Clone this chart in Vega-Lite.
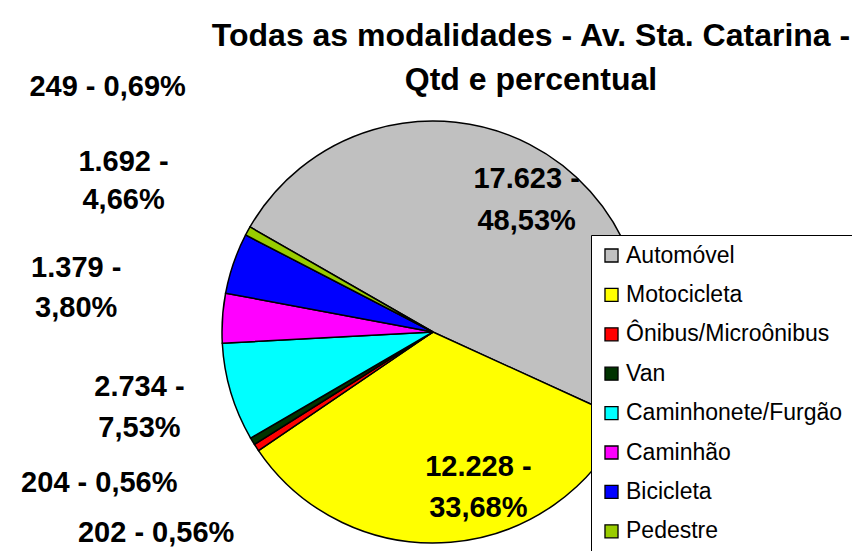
{
  "$schema": "https://vega.github.io/schema/vega-lite/v6.json",
  "autosize": "none",
  "width": 422,
  "height": 424,
  "padding": {"left": 222, "top": 120, "right": 208, "bottom": 7},
  "background": "white",
  "title": {
    "text": ["Todas as modalidades - Av. Sta. Catarina -", "Qtd e percentual"],
    "font": "Liberation Sans",
    "fontSize": 32,
    "fontWeight": "bold",
    "color": "black",
    "anchor": "middle",
    "frame": "group",
    "align": "center",
    "dx": 98,
    "offset": -24,
    "lineHeight": 44
  },
  "data": {
    "values": [
      {"modalidade": "Automóvel", "qtd": 17623, "ordem": 1, "rotulo": "17.623 -\n48,53%"},
      {"modalidade": "Motocicleta", "qtd": 12228, "ordem": 2, "rotulo": "12.228 -\n33,68%"},
      {"modalidade": "Ônibus/Microônibus", "qtd": 202, "ordem": 3, "rotulo": "202 - 0,56%"},
      {"modalidade": "Van", "qtd": 204, "ordem": 4, "rotulo": "204 - 0,56%"},
      {"modalidade": "Caminhonete/Furgão", "qtd": 2734, "ordem": 5, "rotulo": "2.734 -\n7,53%"},
      {"modalidade": "Caminhão", "qtd": 1379, "ordem": 6, "rotulo": "1.379 -\n3,80%"},
      {"modalidade": "Bicicleta", "qtd": 1692, "ordem": 7, "rotulo": "1.692 -\n4,66%"},
      {"modalidade": "Pedestre", "qtd": 249, "ordem": 8, "rotulo": "249 - 0,69%"}
    ]
  },
  "layer": [
    {
      "mark": {"type": "arc", "outerRadius": 211, "stroke": "black", "strokeWidth": 1.5},
      "encoding": {
        "theta": {"field": "qtd", "type": "quantitative", "stack": true, "scale": {"type": "linear", "range": [-1.0498, 5.2334]}},
        "order": {"field": "ordem", "type": "quantitative"},
        "color": {
          "field": "modalidade",
          "type": "nominal",
          "scale": {
            "domain": ["Automóvel", "Motocicleta", "Ônibus/Microônibus", "Van", "Caminhonete/Furgão", "Caminhão", "Bicicleta", "Pedestre"],
            "range": ["#C0C0C0", "#FFFF00", "#FF0000", "#003300", "#00FFFF", "#FF00FF", "#0000FF", "#99CC00"]
          },
          "legend": {
            "orient": "none",
            "legendX": 369,
            "legendY": 115,
            "title": null,
            "fillColor": "white",
            "strokeColor": "black",
            "padding": 9,
            "labelFont": "Liberation Sans",
            "labelFontSize": 23,
            "labelColor": "black",
            "labelOffset": 3,
            "labelLimit": 400,
            "symbolType": "square",
            "symbolSize": 170,
            "symbolStrokeColor": "black",
            "symbolStrokeWidth": 1.3,
            "symbolOpacity": 1,
            "rowPadding": 15.4
          }
        }
      }
    },
    {
      "mark": {"type": "text", "radius": 161, "dx": 20, "dy": -10, "font": "Liberation Sans", "fontSize": 29, "fontWeight": "bold", "fill": "black", "lineBreak": "\n", "lineHeight": 42, "align": "center", "baseline": "middle"},
      "encoding": {
        "theta": {"field": "qtd", "type": "quantitative", "stack": true},
        "order": {"field": "ordem", "type": "quantitative"},
        "detail": {"field": "modalidade", "type": "nominal"},
        "text": {"condition": {"test": "datum.modalidade === 'Automóvel'", "field": "rotulo"}, "value": ""}
      }
    },
    {
      "mark": {"type": "text", "radius": 159, "dx": 32, "dy": -23, "font": "Liberation Sans", "fontSize": 29, "fontWeight": "bold", "fill": "black", "lineBreak": "\n", "lineHeight": 41, "align": "center", "baseline": "middle"},
      "encoding": {
        "theta": {"field": "qtd", "type": "quantitative", "stack": true},
        "order": {"field": "ordem", "type": "quantitative"},
        "detail": {"field": "modalidade", "type": "nominal"},
        "text": {"condition": {"test": "datum.modalidade === 'Motocicleta'", "field": "rotulo"}, "value": ""}
      }
    },
    {
      "transform": [
        {"stack": "qtd", "groupby": [], "sort": [{"field": "ordem", "order": "ascending"}], "as": ["s0", "s1"]},
        {"filter": "datum.modalidade === 'Ônibus/Microônibus'"}
      ],
      "mark": {"type": "text", "radius": 342, "dx": 6, "dy": 9, "font": "Liberation Sans", "fontSize": 29, "fontWeight": "bold", "fill": "black", "align": "center", "baseline": "middle"},
      "encoding": {
        "theta": {"field": "s0", "type": "quantitative"},
        "text": {"field": "rotulo"}
      }
    },
    {
      "transform": [
        {"stack": "qtd", "groupby": [], "sort": [{"field": "ordem", "order": "ascending"}], "as": ["s0", "s1"]},
        {"filter": "datum.modalidade === 'Van'"}
      ],
      "mark": {"type": "text", "radius": 364, "dx": -19, "dy": -32, "font": "Liberation Sans", "fontSize": 29, "fontWeight": "bold", "fill": "black", "align": "center", "baseline": "middle"},
      "encoding": {
        "theta": {"field": "s1", "type": "quantitative"},
        "text": {"field": "rotulo"}
      }
    },
    {
      "transform": [
        {"stack": "qtd", "groupby": [], "sort": [{"field": "ordem", "order": "ascending"}], "as": ["s0", "s1"]},
        {"filter": "datum.modalidade === 'Caminhonete/Furgão'"}
      ],
      "mark": {"type": "text", "radius": 296, "dx": 2, "dy": 39, "font": "Liberation Sans", "fontSize": 29, "fontWeight": "bold", "fill": "black", "lineBreak": "\n", "lineHeight": 41, "align": "center", "baseline": "middle"},
      "encoding": {
        "theta": {"field": "s1", "type": "quantitative"},
        "text": {"field": "rotulo"}
      }
    },
    {
      "transform": [
        {"stack": "qtd", "groupby": [], "sort": [{"field": "ordem", "order": "ascending"}], "as": ["s0", "s1"]},
        {"filter": "datum.modalidade === 'Caminhão'"}
      ],
      "mark": {"type": "text", "radius": 363, "dx": 0, "dy": 3, "font": "Liberation Sans", "fontSize": 29, "fontWeight": "bold", "fill": "black", "lineBreak": "\n", "lineHeight": 40, "align": "center", "baseline": "middle"},
      "encoding": {
        "theta": {"field": "s1", "type": "quantitative"},
        "text": {"field": "rotulo"}
      }
    },
    {
      "transform": [
        {"stack": "qtd", "groupby": [], "sort": [{"field": "ordem", "order": "ascending"}], "as": ["s0", "s1"]},
        {"filter": "datum.modalidade === 'Bicicleta'"}
      ],
      "mark": {"type": "text", "radius": 353, "dx": 4, "dy": -8, "font": "Liberation Sans", "fontSize": 29, "fontWeight": "bold", "fill": "black", "lineBreak": "\n", "lineHeight": 38, "align": "center", "baseline": "middle"},
      "encoding": {
        "theta": {"field": "s1", "type": "quantitative"},
        "text": {"field": "rotulo"}
      }
    },
    {
      "transform": [
        {"stack": "qtd", "groupby": [], "sort": [{"field": "ordem", "order": "ascending"}], "as": ["s0", "s1"]},
        {"filter": "datum.modalidade === 'Pedestre'"}
      ],
      "mark": {"type": "text", "radius": 404, "dx": 25, "dy": -44, "font": "Liberation Sans", "fontSize": 29, "fontWeight": "bold", "fill": "black", "align": "center", "baseline": "middle"},
      "encoding": {
        "theta": {"field": "s1", "type": "quantitative"},
        "text": {"field": "rotulo"}
      }
    }
  ],
  "config": {
    "view": {"stroke": null, "fill": "#f5fcf5"}
  }
}
